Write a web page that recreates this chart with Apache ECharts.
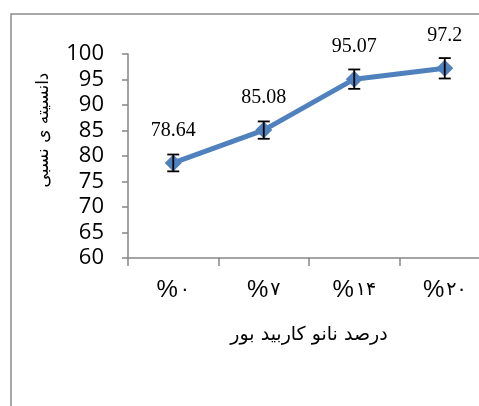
<!DOCTYPE html>
<html>
<head>
<meta charset="utf-8">
<script src="https://cdn.jsdelivr.net/npm/echarts@6/dist/echarts.min.js"></script>
<style>
html,body{margin:0;padding:0;background:#fff;}
#c{width:479px;height:406px;}
</style>
</head>
<body>
<div id="c"></div>
<script>
var categories = ['%۰', '%۷', '%۱۴', '%۲۰'];
var density = [78.64, 85.08, 95.07, 97.2];
var errors = [1.65, 1.7, 1.9, 2.0];
var yTicks = [60, 65, 70, 75, 80, 85, 90, 95, 100];
var xName = 'درصد نانو کاربید بور';
var yName = 'دانسیته ی نسبی';

var chart = echarts.init(document.getElementById('c'));
var errData = density.map(function (v, i) { return [i, v - errors[i], v + errors[i]]; });

chart.setOption({
  backgroundColor: '#fff',
  animation: false,
  graphic: [{
    type: 'rect', shape: { x: 11, y: 14, width: 520, height: 440 },
    style: { fill: 'none', stroke: '#8c8c8c', lineWidth: 1.5 }, silent: true, z: -1
  }],
  grid: { left: 128, top: 54, width: 362, height: 204, containLabel: false, outerBoundsMode: 'none' },
  xAxis: {
    type: 'category', data: categories, boundaryGap: true,
    axisLine: { lineStyle: { color: '#868686', width: 1.5 } },
    axisTick: { show: true, length: 8, lineStyle: { color: '#868686', width: 1.5 } },
    axisLabel: {
      margin: 20, color: '#000',
      formatter: function (v) { return '{p|' + v.charAt(0) + '}{d|' + v.slice(1) + '}'; },
      rich: {
        p: { fontSize: 24, fontFamily: 'Liberation Sans', color: '#000' },
        d: { fontSize: 19, fontFamily: 'DejaVu Sans', color: '#000', padding: [0, 0, 0, 2] }
      }
    },
    name: xName, nameLocation: 'middle', nameGap: 68,
    nameTextStyle: { color: '#000', fontSize: 19, fontFamily: 'DejaVu Sans' }
  },
  yAxis: {
    type: 'value', min: yTicks[0], max: yTicks[yTicks.length - 1], interval: 5,
    splitLine: { show: false },
    axisLine: { show: true, lineStyle: { color: '#868686', width: 1.5 } },
    axisTick: { show: true, length: 6, lineStyle: { color: '#868686', width: 1.5 } },
    axisLabel: { margin: 24, color: '#000', fontSize: 22, fontFamily: 'Open Sans' },
    name: yName, nameLocation: 'middle', nameGap: 76, nameRotate: 90,
    nameTextStyle: { color: '#000', fontSize: 17, fontFamily: 'DejaVu Sans', padding: [0, 0, 0, 52] }
  },
  series: [{
    type: 'line', data: density,
    symbol: 'diamond', symbolSize: [17, 17],
    lineStyle: { color: '#4F81BD', width: 5 },
    itemStyle: { color: '#4F81BD' },
    label: { show: true, position: 'top', distance: 14, color: '#000', fontSize: 20, fontFamily: 'Liberation Serif' },
    z: 2
  }, {
    type: 'custom', data: errData, z: 3,
    renderItem: function (params, api) {
      var x = api.value(0);
      var lo = api.coord([x, api.value(1)]);
      var hi = api.coord([x, api.value(2)]);
      var hw = 6;
      var st = { stroke: '#000', lineWidth: 1.8 };
      return {
        type: 'group', children: [
          { type: 'line', shape: { x1: lo[0], y1: lo[1], x2: hi[0], y2: hi[1] }, style: st },
          { type: 'line', shape: { x1: lo[0] - hw, y1: lo[1], x2: lo[0] + hw, y2: lo[1] }, style: st },
          { type: 'line', shape: { x1: hi[0] - hw, y1: hi[1], x2: hi[0] + hw, y2: hi[1] }, style: st }
        ]
      };
    }
  }]
});
</script>
</body>
</html>
